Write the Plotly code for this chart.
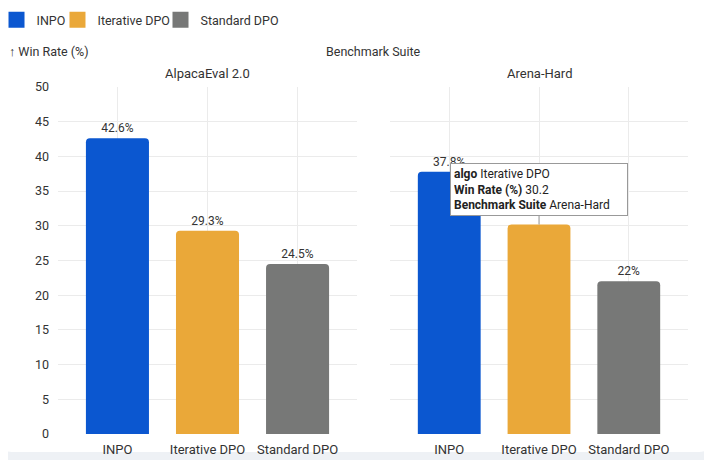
import plotly.graph_objects as go

# data
benchmarks = ["AlpacaEval 2.0", "Arena-Hard"]
algos = ["INPO", "Iterative DPO", "Standard DPO"]
alpaca_rates = [42.6, 29.3, 24.5]
arena_rates = [37.8, 30.2, 22]
y_ticks = [0, 5, 10, 15, 20, 25, 30, 35, 40, 45, 50]

# bar under the mouse in the reference (facet, algo); its tooltip hides the label
hovered = (1, 1)

colors = {"INPO": "#0b57d0", "Iterative DPO": "#eaa839", "Standard DPO": "#777877"}
font = "Roboto, sans-serif"
grid = "#ebebeb"
txt = "#333333"

fig = go.Figure()

# bars, one trace per facet
for i, (rates, xa) in enumerate([(alpaca_rates, "x"), (arena_rates, "x2")]):
    labels = ["" if (i, j) == hovered else f"{v}%" for j, v in enumerate(rates)]
    fig.add_trace(go.Bar(
        x=algos, y=rates, xaxis=xa, yaxis="y",
        marker=dict(color=[colors[a] for a in algos], cornerradius=4, line=dict(width=0)),
        width=0.7,
        text=labels, textposition="outside",
        textfont=dict(size=12, color=txt),
        cliponaxis=False, showlegend=False,
    ))

# legend entries (square swatches), each in its own legend so the spacing can follow the reference
legend_x = [-0.0976, -0.0008, 0.1627]
for k, a in enumerate(algos):
    fig.add_trace(go.Scatter(
        x=[None], y=[None], mode="markers", name=a,
        marker=dict(symbol="square", size=16, color=colors[a]),
        xaxis="x", yaxis="y", legend="legend" if k == 0 else f"legend{k + 1}",
    ))

axis_common = dict(
    type="category", range=[-0.66, 2.66], showgrid=True, gridcolor=grid,
    zeroline=False, showline=False, ticks="", tickfont=dict(size=13, color=txt),
    ticklabelstandoff=6, fixedrange=True,
)
fig.update_layout(
    xaxis=dict(domain=[0, 0.4746], anchor="y", **axis_common),
    xaxis2=dict(domain=[0.527, 1], anchor="y", **axis_common),
    yaxis=dict(range=[0, 50], tickvals=y_ticks, showgrid=True, gridcolor=grid,
               zeroline=False, tickfont=dict(size=12.5, color=txt), ticklabelstandoff=8),
)

# white card with rounded bottom corners on a light grey page
x0, x1, yt, yb, rx, ry = -0.0921, 1.0365, 1.3, -0.0519, 0.019, 0.0346
fig.add_shape(
    type="path", xref="paper", yref="paper", layer="below",
    path=(f"M {x0},{yt} L {x1},{yt} L {x1},{yb + ry} Q {x1},{yb} {x1 - rx},{yb} "
          f"L {x0 + rx},{yb} Q {x0},{yb} {x0},{yb + ry} Z"),
    fillcolor="white", line=dict(width=0),
)

# titles
fig.add_annotation(text="↑ Win Rate (%)", xref="paper", yref="paper", x=-0.081, y=1.101,
                   xanchor="left", yanchor="middle", showarrow=False,
                   font=dict(size=12.5, color=txt))
fig.add_annotation(text="Benchmark Suite", xref="paper", yref="paper", x=0.5, y=1.101,
                   xanchor="center", yanchor="middle", showarrow=False,
                   font=dict(size=12.5, color=txt))
for b, ref in zip(benchmarks, ["x domain", "x2 domain"]):
    fig.add_annotation(text=b, xref=ref, yref="paper", x=0.5, y=1.04,
                       xanchor="center", yanchor="middle", showarrow=False,
                       font=dict(size=13, color=txt))

# hover box shown on the hovered bar
fi, ai = hovered
fig.add_annotation(
    x=algos[ai], y=[alpaca_rates, arena_rates][fi][ai], xref=["x", "x2"][fi], yref="y",
    text=(f"<b>algo</b> {algos[ai]}<br><b>Win Rate (%)</b> {[alpaca_rates, arena_rates][fi][ai]}"
          f"<br><b>Benchmark Suite</b> {benchmarks[fi]}"),
    align="left", width=170, showarrow=True, arrowhead=0, arrowwidth=1, arrowcolor="#999999",
    ax=0, ay=-35, bgcolor="white", bordercolor="#999999", borderwidth=1, borderpad=3,
    font=dict(size=12, color="#222222"),
)

legend_style = dict(orientation="h", y=1.193, xanchor="left", yanchor="middle",
                    font=dict(size=12.5, color=txt), bgcolor="rgba(0,0,0,0)")
fig.update_layout(
    width=712, height=460,
    # page body adds an 8px offset, so the margins are pulled in by that much
    margin=dict(l=50, r=32, t=79, b=34, autoexpand=False),
    paper_bgcolor="#eef1f5", plot_bgcolor="rgba(0,0,0,0)",
    font=dict(family=font, size=12, color=txt),
    legend=dict(x=legend_x[0], **legend_style),
    legend2=dict(x=legend_x[1], **legend_style),
    legend3=dict(x=legend_x[2], **legend_style),
)

fig.write_html("out.html")
